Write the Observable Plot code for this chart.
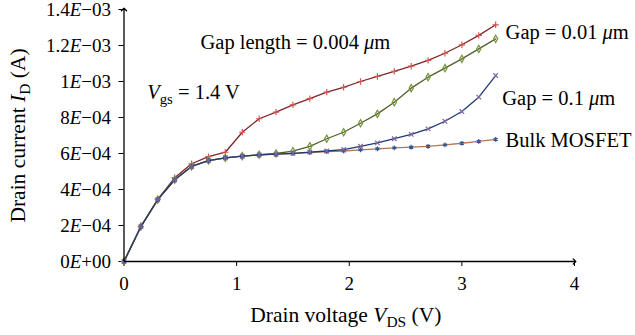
<!DOCTYPE html>
<html><head><meta charset="utf-8">
<script src="https://cdn.jsdelivr.net/npm/d3@7"></script>
<script src="https://cdn.jsdelivr.net/npm/@observablehq/plot@0.6"></script>
<style>body{margin:0;background:#fff}</style>
</head><body><div id="chart"></div>
<script>
// Drain voltage samples (V)
const vds = [0,0.15,0.3,0.45,0.6,0.75,0.9,1.05,1.2,1.35,1.5,1.65,1.8,1.95,2.1,2.25,2.4,2.55,2.7,2.85,3.0,3.15,3.3];
// Drain current (A)
const idGap004 = [0,1.94e-4,3.46e-4,4.65e-4,5.43e-4,5.83e-4,6.07e-4,7.18e-4,7.93e-4,8.3e-4,8.7e-4,9.05e-4,9.41e-4,9.68e-4,1.0e-3,1.028e-3,1.056e-3,1.085e-3,1.117e-3,1.157e-3,1.204e-3,1.256e-3,1.315e-3];
const idGap001 = [0,1.94e-4,3.44e-4,4.54e-4,5.28e-4,5.61e-4,5.76e-4,5.85e-4,5.93e-4,6.0e-4,6.13e-4,6.4e-4,6.82e-4,7.18e-4,7.68e-4,8.2e-4,8.85e-4,9.63e-4,1.024e-3,1.074e-3,1.126e-3,1.181e-3,1.237e-3];
const idGap01  = [0,1.94e-4,3.44e-4,4.54e-4,5.28e-4,5.61e-4,5.76e-4,5.85e-4,5.92e-4,5.96e-4,6.01e-4,6.08e-4,6.14e-4,6.22e-4,6.4e-4,6.59e-4,6.82e-4,7.06e-4,7.37e-4,7.79e-4,8.33e-4,9.13e-4,1.033e-3];
const idBulk   = [0,1.94e-4,3.44e-4,4.54e-4,5.28e-4,5.61e-4,5.76e-4,5.85e-4,5.92e-4,5.96e-4,6.0e-4,6.05e-4,6.1e-4,6.14e-4,6.2e-4,6.26e-4,6.31e-4,6.35e-4,6.4e-4,6.48e-4,6.57e-4,6.67e-4,6.78e-4];

const xTicks = [0,1,2,3,4];
const yTicks = [0,2e-4,4e-4,6e-4,8e-4,1e-3,1.2e-3,1.4e-3];
const yTickLabels = ["0<i>E</i>+00","2<i>E</i>−04","4<i>E</i>−04","6<i>E</i>−04","8<i>E</i>−04","1<i>E</i>−03","1.2<i>E</i>−03","1.4<i>E</i>−03"];

const xTitle = "Drain voltage <i>V</i><sub>DS</sub> (V)";
const yTitle = "Drain current <i>I</i><sub>D</sub> (A)";

// annotation labels, anchored in data coordinates
const noteText = ["Gap length = 0.004 <i>μ</i>m", "<i>V</i><sub>gs</sub> = 1.4 V", "Gap = 0.01 <i>μ</i>m", "Gap = 0.1 <i>μ</i>m", "Bulk MOSFET"];
const noteX = [0.679, 0.206, 3.388, 3.359, 3.388];
const noteY = [1.218e-3, 9.41e-4, 1.275e-3, 9.06e-4, 6.72e-4];

const plain = s => s.replace(/<\/?(i|sub)>/g, "");
const markup = new Map();
[...yTickLabels, xTitle, yTitle, ...noteText].forEach(s => markup.set(plain(s), s));

const series = [
  {vals: idGap004, line: "#7e2626", mark: "#d9534f", symbol: "plus"},
  {vals: idGap001, line: "#4f6228", mark: "#76933c", symbol: "diamond"},
  {vals: idBulk,   line: "#b3774f", mark: "#2f5597", symbol: "asterisk"},
  {vals: idGap01,  line: "#1f3a6e", mark: "#8064a2", symbol: "times"}
];

const marks = [];
for (const s of series) {
  const rows = vds.map((v, i) => ({x: v, y: s.vals[i]}));
  marks.push(Plot.line(rows, {x: "x", y: "y", stroke: s.line, strokeWidth: 1.3}));
  marks.push(Plot.dot(rows, {x: "x", y: "y", stroke: s.mark, symbol: s.symbol, r: 2.2, strokeWidth: 1.2}));
}
const xMax = xTicks[xTicks.length - 1], yMax = yTicks[yTicks.length - 1];
marks.push(Plot.link([{}], {x1: () => 0, y1: () => 0, x2: () => 0, y2: () => yMax, stroke: "black", strokeWidth: 1.3, markerEnd: "arrow"}));
marks.push(Plot.link([{}], {x1: () => 0, y1: () => 0, x2: () => xMax, y2: () => 0, stroke: "black", strokeWidth: 1.3, markerEnd: "arrow"}));
const notes = noteText.map((t, i) => ({t: plain(t), x: noteX[i], y: noteY[i]}));
marks.push(Plot.text(notes, {x: "x", y: "y", text: "t", textAnchor: "start", fontSize: 20.5, fill: "black"}));
marks.push(Plot.text([plain(xTitle)], {x: () => 1.97, text: d => d, frameAnchor: "bottom", textAnchor: "middle", dy: 60, fontSize: 21.5, fill: "black"}));
marks.push(Plot.text([plain(yTitle)], {text: d => d, frameAnchor: "left", textAnchor: "middle", dx: -106, rotate: -90, fontSize: 21.5, fill: "black"}));

const chart = Plot.plot({
  width: 635, height: 335,
  marginLeft: 123.5, marginRight: 61, marginTop: 9, marginBottom: 74,
  style: {fontFamily: "'Liberation Serif', serif", fontSize: "19px", background: "white", color: "black"},
  x: {domain: [0, xMax], ticks: xTicks, tickSize: 5, tickPadding: 10, tickFormat: d => String(d), label: null},
  y: {domain: [0, yMax], ticks: yTicks, tickSize: 5, tickPadding: 8, tickFormat: d => plain(yTickLabels[yTicks.indexOf(d)]), label: null},
  marks
});

// rich text: italics and subscripts
const NS = "http://www.w3.org/2000/svg";
document.getElementById("chart").appendChild(chart);
chart.querySelectorAll("text").forEach(el => {
  const key = el.textContent;
  if (!markup.has(key)) return;
  const m = markup.get(key);
  const fs = parseFloat(getComputedStyle(el).fontSize) || 19;
  const off = fs * 0.25;
  el.textContent = "";
  let inSub = false;
  const re = /<(i|sub)>(.*?)<\/\1>|([^<]+)/g;
  let r;
  while ((r = re.exec(m))) {
    const ts = document.createElementNS(NS, "tspan");
    const kind = r[1] || "plain";
    ts.textContent = r[2] !== undefined ? r[2] : r[3];
    if (kind === "i") ts.setAttribute("font-style", "italic");
    if (kind === "sub") {
      ts.setAttribute("font-size", (fs * 0.72) + "px");
      if (!inSub) { ts.setAttribute("dy", off); inSub = true; }
    } else if (inSub) { ts.setAttribute("dy", -off); inSub = false; }
    el.appendChild(ts);
  }
});
</script>
</body></html>
